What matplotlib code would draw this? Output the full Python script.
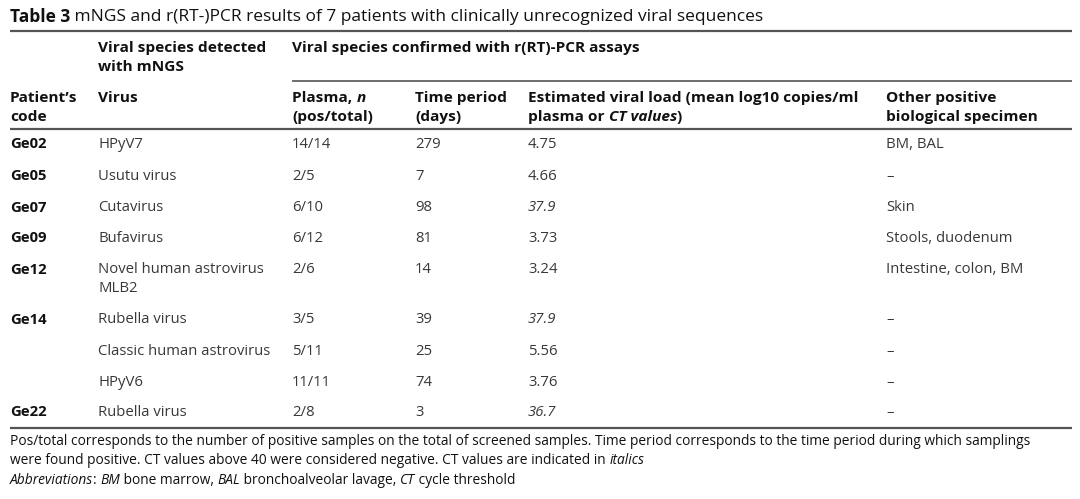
import matplotlib
matplotlib.use("Agg")
import matplotlib.pyplot as plt

plt.rcParams['font.family'] = ['Open Sans', 'DejaVu Sans']

title_bold = "Table 3"
title_rest = " mNGS and r(RT-)PCR results of 7 patients with clinically unrecognized viral sequences"

codes = ["Ge02", "Ge05", "Ge07", "Ge09", "Ge12", "Ge14", "", "", "Ge22"]
viruses = ["HPyV7", "Usutu virus", "Cutavirus", "Bufavirus", "Novel human astrovirus\nMLB2",
           "Rubella virus", "Classic human astrovirus", "HPyV6", "Rubella virus"]
plasma = ["14/14", "2/5", "6/10", "6/12", "2/6", "3/5", "5/11", "11/11", "2/8"]
time_days = [279, 7, 98, 81, 14, 39, 25, 74, 3]
viral_load = ["4.75", "4.66", "37.9", "3.73", "3.24", "37.9", "5.56", "3.76", "36.7"]
load_is_ct = [False, False, True, False, False, True, False, False, True]
other_specimen = ["BM, BAL", "–", "Skin", "Stools, duodenum", "Intestine, colon, BM",
                  "–", "–", "–", "–"]

W, H = 1080, 499
fig = plt.figure(figsize=(W / 100, H / 100), dpi=100)
ax = fig.add_axes([0, 0, 1, 1])
ax.set_xlim(0, W)
ax.set_ylim(H, 0)
ax.axis('off')

BLACK = '#111111'
BODY = '#383838'
LINE = '#555555'
fs_title = 12.5
fs_head = 11.1
fs_body = 10.7
fs_foot = 9.9
DY = 1.5  # vertical nudge of text

fig.canvas.draw()
inv = ax.transData.inverted()


def run(x, y, parts, fs, color, weight='normal'):
    """Draw consecutive text pieces (text, italic) on one line."""
    for s, it in parts:
        tt = ax.text(x, y + DY, s, fontsize=fs, fontweight=weight, color=color, va='center',
                     style='italic' if it else 'normal')
        fig.canvas.draw()
        x = inv.transform((tt.get_window_extent().x1, 0))[0]
    return x


def txt(x, y, s, fs, color, weight='normal', italic=False):
    ax.text(x, y + DY, s, fontsize=fs, fontweight=weight, color=color, va='center',
            style='italic' if italic else 'normal')


# Title
xb = run(10, 15, [(title_bold, False)], fs_title, BLACK, 'bold')
txt(xb, 15, title_rest, fs_title, BLACK)

# lines
ax.plot([10, 1072], [31, 31], color=LINE, lw=1.6, solid_capstyle='butt')
ax.plot([292, 1072], [81, 81], color=LINE, lw=1.2, solid_capstyle='butt')
ax.plot([10, 1072], [129, 129], color=LINE, lw=1.6, solid_capstyle='butt')
ax.plot([10, 1072], [428, 428], color=LINE, lw=1.6, solid_capstyle='butt')

cx = [10, 98, 292, 415, 528, 886]


def head(x, y, s):
    txt(x, y, s, fs_head, BLACK, 'bold')


head(cx[1], 46, "Viral species detected")
head(cx[1], 65, "with mNGS")
head(cx[2], 46, "Viral species confirmed with r(RT)-PCR assays")

h1, h2 = 96, 115
head(cx[0], h1, "Patient’s")
head(cx[0], h2, "code")
head(cx[1], h1, "Virus")
run(cx[2], h1, [("Plasma, ", False), ("n", True)], fs_head, BLACK, 'bold')
head(cx[2], h2, "(pos/total)")
head(cx[3], h1, "Time period")
head(cx[3], h2, "(days)")
head(cx[4], h1, "Estimated viral load (mean log10 copies/ml")
run(cx[4], h2, [("plasma or ", False), ("CT values", True), (")", False)], fs_head, BLACK, 'bold')
head(cx[5], h1, "Other positive")
head(cx[5], h2, "biological specimen")

row_y = [143, 175, 206, 237, 268, 318, 350, 381, 411]
for i, y in enumerate(row_y):
    if codes[i]:
        txt(cx[0], y, codes[i], fs_body, BLACK, 'bold')
    for k, s in enumerate(viruses[i].split("\n")):
        txt(cx[1], y + 19 * k, s, fs_body, BODY)
    txt(cx[2], y, plasma[i], fs_body, BODY)
    txt(cx[3], y, str(time_days[i]), fs_body, BODY)
    txt(cx[4], y, viral_load[i], fs_body, BODY, italic=load_is_ct[i])
    txt(cx[5], y, other_specimen[i], fs_body, BODY)

# Footnotes
txt(10, 440, "Pos/total corresponds to the number of positive samples on the total of screened samples. "
    "Time period corresponds to the time period during which samplings", fs_foot, BLACK)
run(10, 459, [("were found positive. CT values above 40 were considered negative. CT values are indicated in ", False),
              ("italics", True)], fs_foot, BLACK)
run(10, 479, [("Abbreviations", True), (": ", False), ("BM", True), (" bone marrow, ", False),
              ("BAL", True), (" bronchoalveolar lavage, ", False), ("CT", True), (" cycle threshold", False)],
    fs_foot, BLACK)

fig.savefig("out.png", dpi=100)
